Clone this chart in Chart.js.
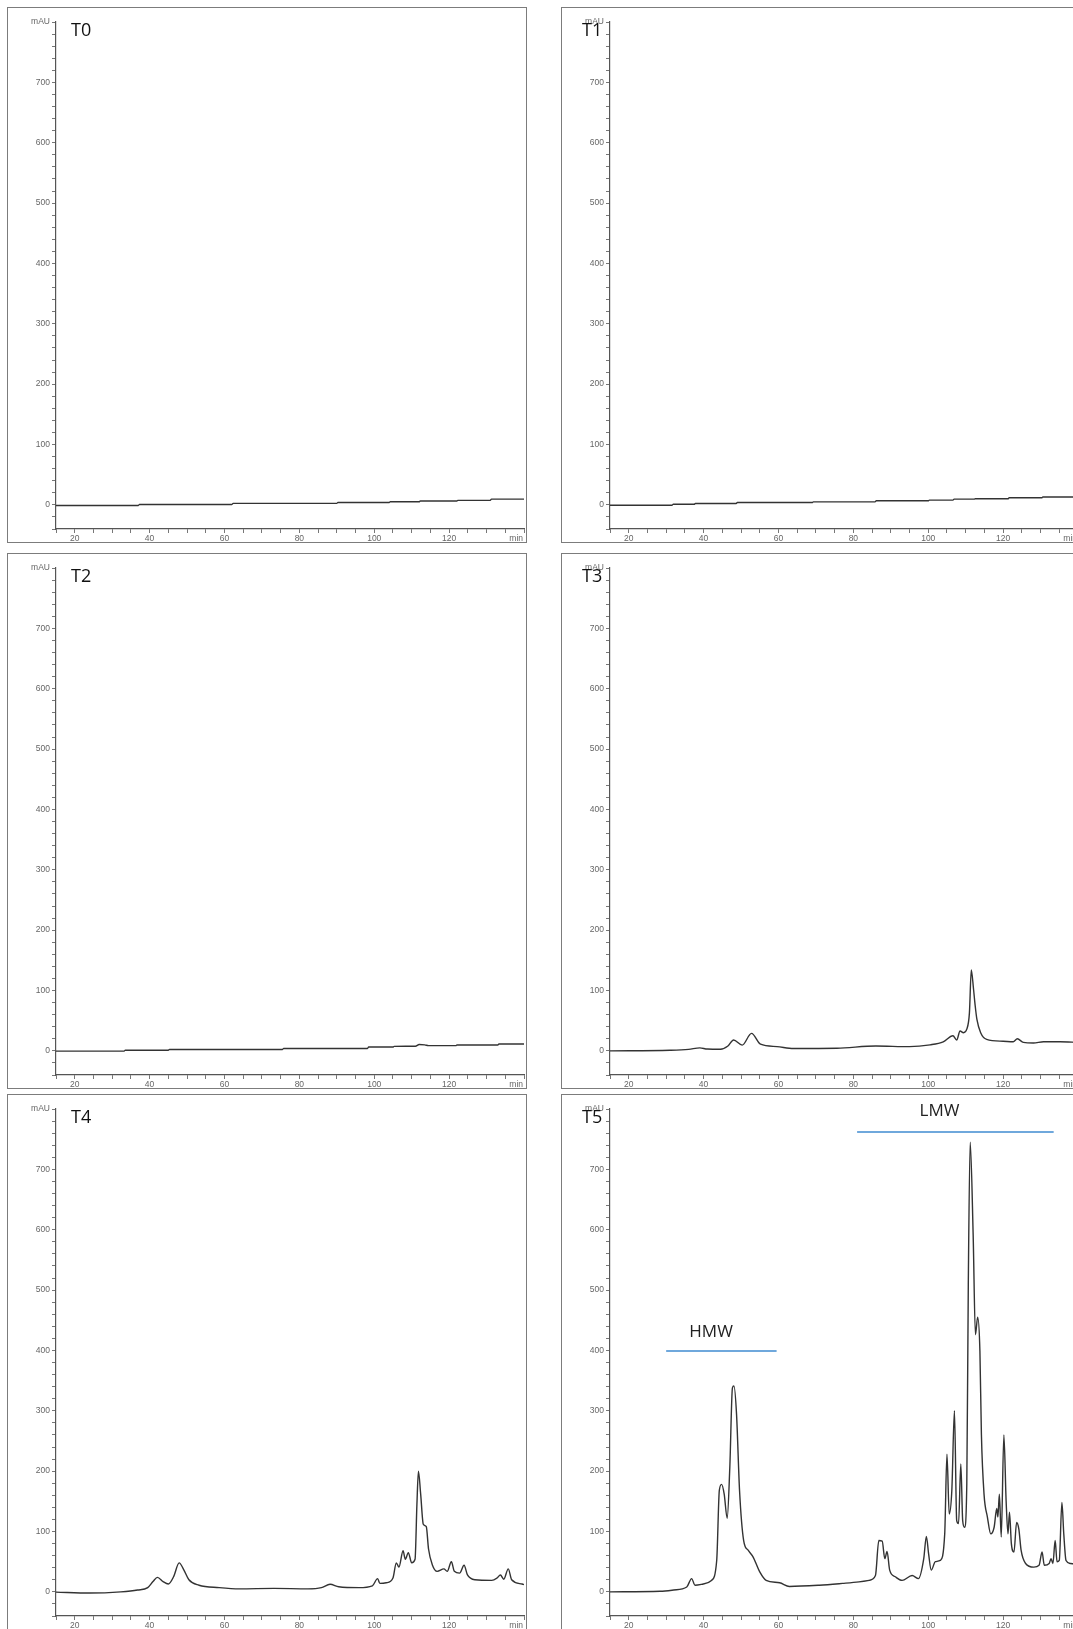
<!DOCTYPE html>
<html lang="en">
<head>
    <meta charset="UTF-8">
    <title>Chromatograms T0 - T5</title>
    <style>
        html, body {
            margin: 0;
            padding: 0;
            width: 1073px;
            height: 1629px;
            overflow: hidden;
            background: #fff;
        }

        .panel {
            position: absolute;
            width: 520px;
            height: 536px;
            border: 1.5px solid #7c7c7c;
            box-sizing: border-box;
            background: #fff;
        }

        .panel canvas {
            display: block;
        }

        .tag {
            position: absolute;
            top: 12px;
            font-family: "Open Sans", sans-serif;
            font-size: 18px;
            line-height: 18px;
            color: #111;
        }
    </style>
</head>
<body>
    <script src="https://cdn.jsdelivr.net/npm/chart.js"></script>
    <script>
        // sample names, one panel each
        const panelNames = ['T0', 'T1', 'T2', 'T3', 'T4', 'T5'];

        // retention time (min) / absorbance (mAU)
        const t0Time = [15, 37, 37.3, 62, 62.3, 90, 90.3, 104, 104.3, 112, 112.3, 122, 122.3, 131, 131.3, 140];
        const t0Abs = [-1, -1, 0.7, 0.7, 2.4, 2.4, 4, 4, 5.2, 5.2, 6.3, 6.3, 7.5, 7.5, 9.5, 9.5];

        const t1Time = [15, 31.6, 31.9, 37.5, 37.8, 48.7, 49, 69, 69.3, 85.8, 86.1, 100, 100.3, 106.6, 106.9, 112.3, 112.6, 121.3, 121.6, 130.3, 130.6, 140];
        const t1Abs = [-0.6, -0.6, 1.1, 1.1, 2.2, 2.2, 3.9, 3.9, 5, 5, 6.7, 6.7, 7.8, 7.8, 9.5, 9.5, 10, 10, 11.8, 11.8, 12.9, 12.9];

        const t2Time = [15, 33.2, 33.5, 45, 45.3, 75.5, 75.8, 98.2, 98.5, 105, 105.3, 111, 112, 113.5, 114.5, 121.8, 122.1, 133, 133.3, 140];
        const t2Abs = [-0.5, -0.5, 1.1, 1.1, 2.3, 2.3, 4, 4, 6.3, 6.3, 7.4, 7.6, 10.5, 10, 8.6, 8.6, 9.7, 9.7, 11.4, 11.4];

        const t3Time = [15, 31, 36, 39, 41, 44.5, 46.5, 48, 50.3, 52.8, 55.2, 59.6, 64, 75.6, 86, 95, 100.5, 104, 106.6, 107.6,
            108.5, 109.4, 110.3, 111, 111.5, 112.1, 112.5, 113, 114, 115.6, 120, 122.7, 123.8, 125.4, 128.1, 130.8, 135.2, 140];
        const t3Abs = [0, 1, 2.5, 5, 3, 2.7, 8, 18, 9.5, 29, 11, 7, 4, 4.4, 8, 7, 10, 15, 25, 18,
            33, 30, 36, 63, 134, 102, 77, 52, 30, 19, 16, 15, 20, 14, 13, 15, 15, 14];

        const t4Time = [15, 24, 32.3, 36.8, 39.5, 40.9, 42.1, 43.6, 45, 46.4, 47.9, 49.1, 50.5, 53.2, 58.6, 64, 73.2, 82.3, 85.9, 88.2,
            90.5, 95.9, 99.5, 100.9, 101.5, 103.2, 105, 105.9, 106.6, 107.7, 108.3, 109.1, 110, 110.9, 111.4, 111.8, 112.4, 113.1, 113.9, 114.5,
            115.5, 116.8, 118.6, 119.5, 120.6, 121.4, 122.8, 124, 124.9, 126.9, 131.4, 132.8, 133.7, 134.6, 135.8, 136.7, 139.5, 140];
        const t4Abs = [-0.5, -2, 0, 3, 7, 17, 24, 17, 13, 25, 48, 37, 20, 11, 7, 5, 5.7, 5, 7, 12.5,
            8.5, 7, 10, 22, 14, 15, 23, 48, 41, 68, 54, 65, 48, 54, 145, 200, 162, 112, 108, 71,
            45, 34, 38, 34, 50, 34, 31, 44, 28, 20, 19, 23, 28, 21, 38, 20, 13, 12];

        const t5Time = [15, 28.4, 32, 35.5, 36.8, 37.7, 39.9, 42.1, 43.5, 44.2, 44.8, 45.5, 46.3, 47, 47.7, 48.1, 48.8, 49.6, 50.7, 51.9,
            53.2, 55, 56.7, 60.3, 62.9, 70.9, 77.1, 81.5, 84.2, 85.9, 86.8, 87.7, 88.4, 89, 89.7, 91.2, 93, 95.7, 97.4, 98.8,
            99.5, 100.1, 100.8, 101.9, 103.2, 104.4, 105, 105.6, 106.3, 107, 107.6, 108.1, 108.7, 109.2, 109.7, 110.3, 110.7, 111.2, 112, 112.6,
            113.2, 113.8, 114.2, 114.9, 115.8, 116.7, 117.6, 118.3, 118.6, 119, 119.5, 120.2, 120.8, 121.3, 121.7, 122.2, 122.9, 123.6, 124.2, 124.8,
            126, 128.2, 129.6, 130.4, 131, 132.3, 132.8, 133.3, 133.9, 134.4, 135, 135.7, 136.2, 136.8, 138, 140];
        const t5Abs = [0, 1, 3, 8, 22, 11, 13, 19, 52, 168, 178, 162, 122, 206, 338, 341, 294, 168, 85, 69,
            58, 33, 19, 15, 9, 11, 14, 16.5, 19, 27, 85, 84, 55, 67, 36, 25, 19, 27, 22, 55,
            92, 63, 36, 50, 52, 96, 228, 129, 168, 300, 118, 113, 212, 118, 107, 179, 509, 745, 591, 426,
            455, 399, 261, 162, 124, 96, 107, 138, 124, 162, 91, 260, 151, 96, 132, 80, 66, 115, 104, 69,
            47, 41, 44, 66, 44, 47, 55, 47, 85, 50, 52, 148, 96, 52, 47, 45];

        // labelled ticks
        const xLabels = [20, 40, 60, 80, 100, 120];
        const yLabels = [0, 100, 200, 300, 400, 500, 600, 700];

        const series = [
            [t0Time, t0Abs], [t1Time, t1Abs], [t2Time, t2Abs],
            [t3Time, t3Abs], [t4Time, t4Abs], [t5Time, t5Abs]
        ];

        // fraction markers on the last trace (time range, level, label)
        const fractions = {
            T5: [
                { text: 'HMW', from: 30, to: 59.5, level: 399, textAt: 42, textLevel: 422 },
                { text: 'LMW', from: 81, to: 133.5, level: 762, textAt: 103, textLevel: 788 }
            ]
        };

        const colLeft = [7, 561];
        const rowTop = [7, 553, 1094];

        const extras = {
            id: 'extras',
            afterDraw(chart, args, opts) {
                const { ctx, chartArea, scales: { x, y } } = chart;
                ctx.save();
                ctx.font = '8.5px "Liberation Sans", Arial, sans-serif';
                ctx.fillStyle = '#666';
                ctx.textAlign = 'right';
                ctx.textBaseline = 'top';
                ctx.fillText('min', chartArea.right - 1, chartArea.bottom + 5);

                (fractions[opts.name] || []).forEach(f => {
                    const yy = y.getPixelForValue(f.level);
                    ctx.strokeStyle = '#6fa8dc';
                    ctx.lineWidth = 2;
                    ctx.beginPath();
                    ctx.moveTo(x.getPixelForValue(f.from), yy);
                    ctx.lineTo(x.getPixelForValue(f.to), yy);
                    ctx.stroke();
                    ctx.font = '17px "Open Sans", sans-serif';
                    ctx.fillStyle = '#222';
                    ctx.textAlign = 'center';
                    ctx.textBaseline = 'alphabetic';
                    ctx.fillText(f.text, x.getPixelForValue(f.textAt), y.getPixelForValue(f.textLevel));
                });
                ctx.restore();
            }
        };

        const tickFont = { family: '"Liberation Sans", Arial, sans-serif', size: 8.5 };

        panelNames.forEach((name, i) => {
            const [time, abs] = series[i];

            const panel = document.createElement('div');
            panel.className = 'panel';
            panel.style.left = colLeft[i % 2] + 'px';
            panel.style.top = rowTop[Math.floor(i / 2)] + 'px';

            const canvas = document.createElement('canvas');
            canvas.width = 517;
            canvas.height = 533;
            panel.appendChild(canvas);

            const tag = document.createElement('div');
            tag.className = 'tag';
            tag.textContent = name;
            tag.style.left = (i % 2 ? 20 : 63) + 'px';
            panel.appendChild(tag);

            document.body.appendChild(panel);

            new Chart(canvas, {
                type: 'line',
                data: {
                    datasets: [{
                        data: time.map((t, k) => ({ x: t, y: abs[k] })),
                        borderColor: '#333',
                        borderWidth: 1.4,
                        pointRadius: 0,
                        cubicInterpolationMode: 'monotone',
                        fill: false
                    }]
                },
                options: {
                    responsive: false,
                    animation: false,
                    events: [],
                    layout: { padding: { top: 14, right: 0, left: 0, bottom: 0 } },
                    plugins: {
                        legend: { display: false },
                        tooltip: { enabled: false },
                        extras: { name: name }
                    },
                    scales: {
                        x: {
                            type: 'linear',
                            min: 15,
                            max: 140,
                            afterFit: s => { s.height = 12; },
                            grid: { drawOnChartArea: false, tickLength: 4, color: '#777' },
                            border: { color: '#555', width: 1.2 },
                            ticks: {
                                stepSize: 5,
                                autoSkip: false,
                                maxRotation: 0,
                                padding: 1,
                                font: tickFont,
                                color: '#666',
                                callback: v => xLabels.includes(v) ? String(v) : ''
                            }
                        },
                        y: {
                            min: -40,
                            max: 800,
                            afterFit: s => { s.width = 48; },
                            grid: { drawOnChartArea: false, tickLength: 4, color: '#777' },
                            border: { color: '#555', width: 1.2 },
                            ticks: {
                                stepSize: 20,
                                autoSkip: false,
                                padding: 2,
                                font: tickFont,
                                color: '#666',
                                callback: v => v === 800 ? 'mAU' : (yLabels.includes(v) ? String(v) : '')
                            }
                        }
                    }
                },
                plugins: [extras]
            });
        });
    </script>
</body>
</html>
